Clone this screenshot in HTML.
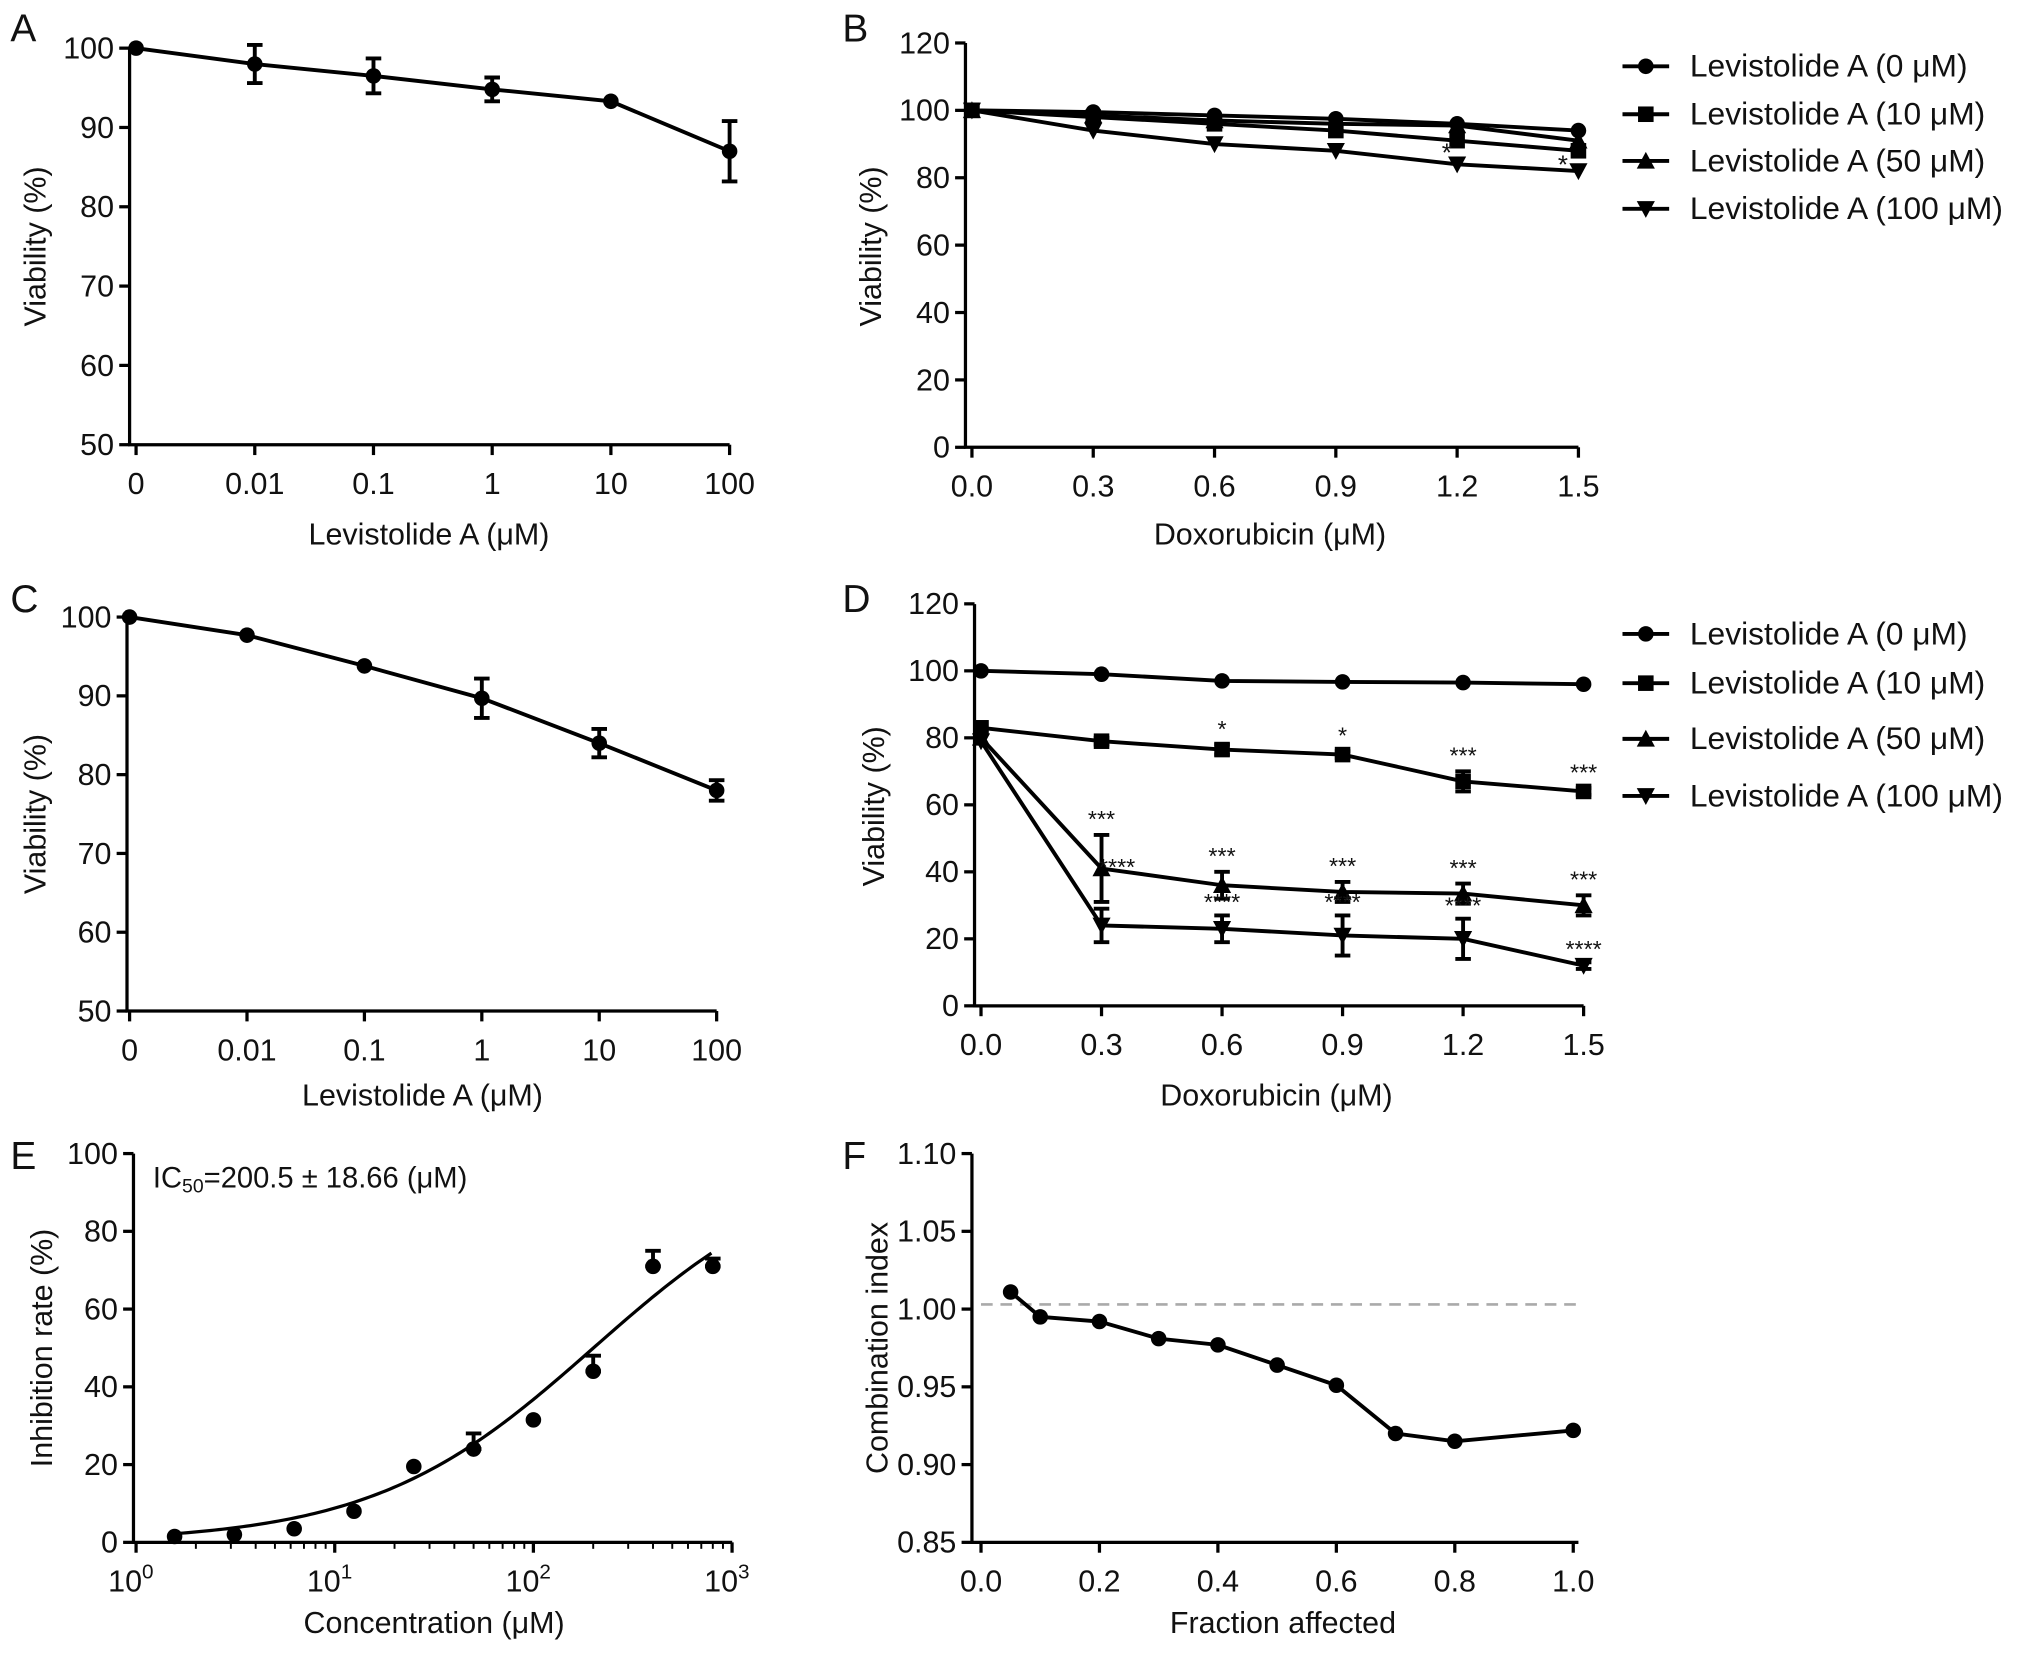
<!DOCTYPE html>
<html><head><meta charset="utf-8"><style>
html,body{margin:0;padding:0;background:#fff;}
svg{display:block;font-family:"Liberation Sans",Arial,sans-serif;}
</style></head><body>
<svg id="fig" width="2032" height="1654" viewBox="0 0 1568 1276" xmlns="http://www.w3.org/2000/svg">
<rect width="1568" height="1276" fill="#fff"/>
</svg>
<script>
// ---- Data ----
const catLabelsAC = ["0","0.01","0.1","1","10","100"];
const aVals = [100,98,96.5,94.8,93.3,87];
const aErr = [0.3,2.4,2.2,1.5,0.4,3.8];
const cVals = [100,97.7,93.8,89.7,84,78];
const cErr = [0.3,0.4,0.5,2.5,1.8,1.3];
const doxX = [0,0.3,0.6,0.9,1.2,1.5];
const doxTicks = ["0.0","0.3","0.6","0.9","1.2","1.5"];
const b0 = [100,99.5,98.5,97.5,96,94];
const b10 = [100,98,96,94,91,88];
const b50 = [100,98.5,97,96,95.5,91];
const b100 = [100,94,90,88,84,82];
const d0 = [100,99,97,96.7,96.5,96];
const d10 = [83,79,76.5,75,67,64];
const d10Err = [0,1,1.5,1,3,1];
const d50 = [80,41,36,34,33.5,30];
const d50Err = [0,10,4,3,3,3];
const d100 = [79,24,23,21,20,12];
const d100Err = [0,5,4,6,6,1];
const d10Stars = ["","","*","*","***","***"];
const d50Stars = ["","***","***","***","***","***"];
const d100Stars = ["","****","****","****","****","****"];
const legendLabels = ["Levistolide A (0 μM)","Levistolide A (10 μM)","Levistolide A (50 μM)","Levistolide A (100 μM)"];
const eConc = [1.5625,3.125,6.25,12.5,25,50,100,200,400,800];
const eVals = [1.5,2,3.5,8,19.5,24,31.5,44,71,71];
const eErr = [0,0,0,0,0,4,0,4,4,2];
const eIC50 = 200.5, eHill = 0.78;
const fFa = [0.05,0.1,0.2,0.3,0.4,0.5,0.6,0.7,0.8,1.0];
const fCI = [1.011,0.995,0.992,0.981,0.977,0.964,0.951,0.920,0.915,0.922];
const fRef = 1.003;

const FS=23.5;
const NS="http://www.w3.org/2000/svg";
const svg=document.getElementById('fig');
function mk(tag,attrs,parent){const e=document.createElementNS(NS,tag);for(const k in attrs)e.setAttribute(k,attrs[k]);(parent||svg).appendChild(e);return e;}
function txt(x,y,s,size,anchor,parent,extra){const t=mk('text',Object.assign({x:x,y:y,'font-size':size,'text-anchor':anchor||'middle',fill:'#111'},extra||{}),parent);t.textContent=s;return t;}
function group(name){const g=mk('g',{});return g;}
function marker(g,type,x,y){
  let e;
  if(type==='circle') e=mk('circle',{cx:x,cy:y,r:6,fill:'#000'},g);
  else if(type==='square') e=mk('rect',{x:x-6,y:y-6,width:12,height:12,fill:'#000'},g);
  else if(type==='tri') e=mk('polygon',{points:`${x},${y-7} ${x-7},${y+6} ${x+7},${y+6}`,fill:'#000'},g);
  else e=mk('polygon',{points:`${x},${y+7} ${x-7},${y-6} ${x+7},${y-6}`,fill:'#000'},g);
  
  
}
function errbar(g,x,y1,y2){
  const p=mk('path',{d:`M${x},${y1}V${y2}M${x-6},${y1}H${x+6}M${x-6},${y2}H${x+6}`,stroke:'#000','stroke-width':3,fill:'none'},g);
  
  
}
function series(g,xs,ys,type,sx,sy,err){
  const pts=xs.map((v,i)=>[sx(v),sy(ys[i])]);
  const l=mk('polyline',{points:pts.map(p=>p.join(',')).join(' '),fill:'none',stroke:'#000','stroke-width':3},g);
  
  
  if(err) xs.forEach((v,i)=>{if(err[i]>0.5)errbar(g,sx(v),sy(ys[i]+err[i]),sy(ys[i]-err[i]));});
  pts.forEach(p=>marker(g,type,p[0],p[1]));
}
function axes(g,x0,x1,y0,y1){
  const p=mk('path',{d:`M${x0},${y0}V${y1}H${x1}`,stroke:'#000','stroke-width':2.5,fill:'none'},g);
  
  
}
function yTicks(g,x0,ticks,sy,fmt){ticks.forEach(v=>{mk('line',{x1:x0-8,x2:x0,y1:sy(v),y2:sy(v),stroke:'#000','stroke-width':2.5},g);txt(x0-12,sy(v)+8,fmt?fmt(v):String(v),FS,'end',g);});}
function xTicks(g,y0,xs,labels,sx){xs.forEach((v,i)=>{mk('line',{x1:sx(v),x2:sx(v),y1:y0,y2:y0+8,stroke:'#000','stroke-width':2.5},g);txt(sx(v),y0+38,labels[i],FS,'middle',g);});}
function yTitle(g,x,y,s){txt(x,y,s,FS,'middle',g,{transform:`rotate(-90 ${x} ${y})`});}
function panelLetter(x,y,s){const t=txt(x,y,s,30,'start');}
function legend(g,x,ys){const types=['circle','square','tri','down'];legendLabels.forEach((s,i)=>{const e=group('legend-entry');g.appendChild(e);mk('line',{x1:x,x2:x+36,y1:ys[i],y2:ys[i],stroke:'#000','stroke-width':3},e);marker(e,types[i],x+18,ys[i]);txt(x+52,ys[i]+8,s,24.5,'start',e);});}

// ---- Panel A ----
(function(){const g=group('panel-a');panelLetter(8,32,'A');
 const sx=i=>105+i*91.6, sy=v=>343-(v-50)*6.12;
 axes(g,100,563,37,343);yTicks(g,100,[50,60,70,80,90,100],sy);xTicks(g,343,[0,1,2,3,4,5],catLabelsAC,sx);
 series(g,[0,1,2,3,4,5],aVals,'circle',sx,sy,aErr);
 txt(331,420,'Levistolide A (μM)',FS,'middle',g);yTitle(g,35,190,'Viability (%)');})();
// ---- Panel C ----
(function(){const g=group('panel-c');panelLetter(8,472,'C');
 const sx=i=>100+i*90.6, sy=v=>780-(v-50)*6.08;
 axes(g,98,553,476,780);yTicks(g,98,[50,60,70,80,90,100],sy);xTicks(g,780,[0,1,2,3,4,5],catLabelsAC,sx);
 series(g,[0,1,2,3,4,5],cVals,'circle',sx,sy,cErr);
 txt(326,853,'Levistolide A (μM)',FS,'middle',g);yTitle(g,35,628,'Viability (%)');})();
// ---- Panel B ----
(function(){const g=group('panel-b');panelLetter(650,32,'B');
 const sx=v=>750+v*312, sy=v=>345-v*2.6;
 axes(g,745,1218,33,345);yTicks(g,745,[0,20,40,60,80,100,120],sy);xTicks(g,345,doxX,doxTicks,sx);
 series(g,doxX,b100,'down',sx,sy);series(g,doxX,b50,'tri',sx,sy);series(g,doxX,b10,'square',sx,sy);series(g,doxX,b0,'circle',sx,sy);
 txt(sx(1.2)-8,sy(84)-2,'*',20,'middle',g);txt(sx(1.5)-12,sy(82)+2,'*',20,'middle',g);
 txt(980,420,'Doxorubicin (μM)',FS,'middle',g);yTitle(g,680,190,'Viability (%)');
 legend(g,1252,[51,88,124,161]);})();
// ---- Panel D ----
(function(){const g=group('panel-d');panelLetter(650,472,'D');
 const sx=v=>757+v*310, sy=v=>776-v*2.585;
 axes(g,752,1222,466,776);yTicks(g,752,[0,20,40,60,80,100,120],sy);xTicks(g,776,doxX,doxTicks,sx);
 series(g,doxX,d0,'circle',sx,sy);series(g,doxX,d10,'square',sx,sy,d10Err);
 series(g,doxX,d50,'tri',sx,sy,d50Err);series(g,doxX,d100,'down',sx,sy,d100Err);
 doxX.forEach((v,i)=>{
  if(d10Stars[i])txt(sx(v),sy(d10[i]+d10Err[i])-6,d10Stars[i],18,'middle',g);
  if(d50Stars[i])txt(sx(v),sy(d50[i]+d50Err[i])-6,d50Stars[i],18,'middle',g);
  if(d100Stars[i])txt(sx(v)+(i===1?12:0),sy(d100[i]+d100Err[i])-4+(i===1?-22:0),d100Stars[i],18,'middle',g);
 });
 txt(985,853,'Doxorubicin (μM)',FS,'middle',g);yTitle(g,682,622,'Viability (%)');
 legend(g,1252,[489,527,570,614]);})();
// ---- Panel E ----
(function(){const g=group('panel-e');panelLetter(8,902,'E');
 const sx=c=>105+Math.log10(c)*153.3, sy=v=>1190-v*3;
 axes(g,103,565,890,1190);yTicks(g,103,[0,20,40,60,80,100],sy);
 [1,10,100,1000].forEach((c,i)=>{mk('line',{x1:sx(c),x2:sx(c),y1:1190,y2:1198,stroke:'#000','stroke-width':2.5},g);
   const t=txt(sx(c)-4,1228,'10',FS,'middle',g);const s=mk('tspan',{'font-size':16,dy:-10},t);s.textContent=String(i);});
 for(let d=0;d<3;d++)for(let k=2;k<10;k++){const c=k*Math.pow(10,d);mk('line',{x1:sx(c),x2:sx(c),y1:1190,y2:1195,stroke:'#000','stroke-width':1.5},g);}
 const cur=[];for(let lc=Math.log10(1.5);lc<=Math.log10(800)+1e-9;lc+=0.02){const c=Math.pow(10,lc);cur.push([sx(c),sy(100/(1+Math.pow(eIC50/c,eHill)))]);}
 const fit=mk('polyline',{points:cur.map(p=>p.join(',')).join(' '),fill:'none',stroke:'#000','stroke-width':2.5},g);
 
 
 eConc.forEach((c,i)=>{if(eErr[i]>0)errbar(g,sx(c),sy(eVals[i]+eErr[i]),sy(eVals[i]));marker(g,'circle',sx(c),sy(eVals[i]));});
 const t=txt(118,916,'IC',22.5,'start',g);const s1=mk('tspan',{'font-size':15,dy:4},t);s1.textContent='50';const s2=mk('tspan',{dy:-4},t);s2.textContent='=200.5 ± 18.66 (μM)';
 txt(335,1260,'Concentration (μM)',FS,'middle',g);yTitle(g,40,1040,'Inhibition rate (%)');})();
// ---- Panel F ----
(function(){const g=group('panel-f');panelLetter(650,902,'F');
 const sx=v=>757+v*457, sy=v=>1190-(v-0.85)*1200;
 axes(g,750,1218,890,1190);yTicks(g,750,[0.85,0.90,0.95,1.00,1.05,1.10],sy,v=>v.toFixed(2));
 xTicks(g,1190,[0,0.2,0.4,0.6,0.8,1.0],["0.0","0.2","0.4","0.6","0.8","1.0"],sx);
 const ref=mk('line',{x1:757,x2:1218,y1:sy(fRef),y2:sy(fRef),stroke:'#aaa','stroke-width':2,'stroke-dasharray':'9,6'},g);
 
 
 series(g,fFa,fCI,'circle',sx,sy);
 txt(990,1260,'Fraction affected',FS,'middle',g);yTitle(g,685,1040,'Combination index');})();
</script>
</body></html>
